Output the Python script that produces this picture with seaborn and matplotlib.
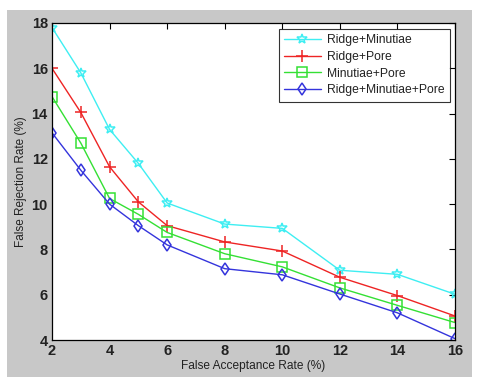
import numpy as np
import pandas as pd
import matplotlib
matplotlib.use("Agg")
import matplotlib.pyplot as plt
from matplotlib.patches import Rectangle
import seaborn as sns

# -----------------------------
# data
# -----------------------------
far = [2, 3, 4, 5, 6, 8, 10, 12, 14, 16]
ridge_minutiae = [17.8, 15.8, 13.3, 11.8, 10.05, 9.12, 8.93, 7.08, 6.9, 6.02]
ridge_pore = [16.0, 14.05, 11.65, 10.1, 9.05, 8.33, 7.93, 6.77, 5.96, 5.06]
minutiae_pore = [14.75, 12.7, 10.25, 9.55, 8.75, 7.81, 7.23, 6.3, 5.53, 4.77]
ridge_minutiae_pore = [13.15, 11.5, 10.0, 9.05, 8.2, 7.15, 6.88, 6.03, 5.2, 4.06]

series = ["Ridge+Minutiae", "Ridge+Pore", "Minutiae+Pore", "Ridge+Minutiae+Pore"]
values = [ridge_minutiae, ridge_pore, minutiae_pore, ridge_minutiae_pore]
colors = ["#3eeef2", "#ee2424", "#34e034", "#3434dc"]
markers = ["*", "+", "s", "d"]
msizes = [7.5, 8, 7, 6]

x_ticks = [2, 4, 6, 8, 10, 12, 14, 16]
y_ticks = [4, 6, 8, 10, 12, 14, 16, 18]

sns.set_theme(style="white")
plt.rcParams["font.family"] = ["Liberation Sans", "DejaVu Sans"]

fig = plt.figure(figsize=(4.84, 3.86), dpi=100, facecolor="white")
# MATLAB-style grey figure panel
fig.patches.append(Rectangle((7 / 484, 1 - 377 / 386), (472 - 7) / 484, (377 - 10) / 386,
                             transform=fig.transFigure, facecolor="#c8c8c8",
                             edgecolor="none", zorder=-10))

ax = fig.add_axes([52 / 484, 1 - 340 / 386, (455 - 52) / 484, (340 - 23) / 386])
ax.set_facecolor("white")
ax.set_zorder(1)

for name, vals, c, m, ms in zip(series, values, colors, markers, msizes):
    sns.lineplot(x=far, y=vals, ax=ax, color=c, marker=m, markersize=ms,
                 markerfacecolor="none", markeredgecolor=c, markeredgewidth=1.1,
                 linewidth=1.0, label=name)

ax.set_xlim(2, 16)
ax.set_ylim(4, 18)
ax.set_xticks(x_ticks)
ax.set_yticks(y_ticks)
ax.tick_params(direction="in", length=4, width=0.8, top=True, right=True,
               labelsize=10.5, pad=3, colors="black")
for lbl in ax.get_xticklabels() + ax.get_yticklabels():
    lbl.set_fontweight("bold")
    lbl.set_color("#222222")
for s in ax.spines.values():
    s.set_color("black")
    s.set_linewidth(0.9)

ax.set_xlabel("False Acceptance Rate (%)", fontsize=8.6, labelpad=1, color="#222222")
ax.set_ylabel("False Rejection Rate (%)", fontsize=8.5, labelpad=3, color="#222222")

leg = ax.legend(loc="upper right", bbox_to_anchor=(0.9876, 0.981), borderaxespad=0,
                fontsize=8.7, frameon=True, fancybox=False, edgecolor="black",
                numpoints=1, handlelength=3.05, borderpad=0.45, labelspacing=0.38,
                handletextpad=0.5)
leg.get_frame().set_linewidth(0.8)
for t in leg.get_texts():
    t.set_color("#222222")

fig.savefig("out.png", dpi=100, facecolor=fig.get_facecolor())
